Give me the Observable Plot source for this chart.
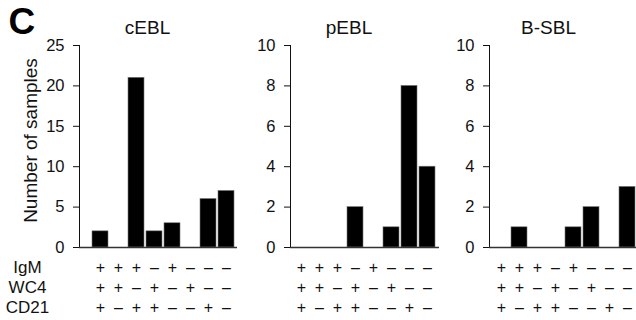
<!DOCTYPE html>
<html>
<head>
<meta charset="utf-8">
<script src="https://cdn.jsdelivr.net/npm/d3@7"></script>
<script src="https://cdn.jsdelivr.net/npm/@observablehq/plot@0.6"></script>
<style>
  html, body { margin: 0; padding: 0; background: #fff; overflow: hidden; }
  #wrap { position: relative; width: 636px; height: 320px; overflow: hidden; font-family: "Liberation Sans", Arial, sans-serif; }
  #wrap > div { position: absolute; top: 0; }
  #wrap svg { max-width: none !important; }
</style>
</head>
<body>
<div id="wrap">
  <div id="p1" style="left:0px; width:240px"></div>
  <div id="p2" style="left:240px; width:200px"></div>
  <div id="p3" style="left:440px; width:200px"></div>
</div>
<script>
// Categories (marker combinations) and sign rows
const categories = [0, 1, 2, 3, 4, 5, 6, 7];
const markers = ["IgM", "WC4", "CD21"];
const igmSigns  = ["+", "+", "+", "–", "+", "–", "–", "–"];
const wc4Signs  = ["+", "+", "–", "+", "–", "+", "–", "–"];
const cd21Signs = ["+", "–", "+", "+", "–", "–", "+", "–"];

// Series values per panel
const panelTitles = ["cEBL", "pEBL", "B-SBL"];
const cEBL  = [2, 0, 21, 2, 3, 0, 6, 7];
const pEBL  = [0, 0, 0, 2, 0, 1, 8, 4];
const bSBL  = [0, 1, 0, 0, 1, 2, 0, 3];
const yMax = [25, 10, 10];
const yTicks = [[0, 5, 10, 15, 20, 25], [0, 2, 4, 6, 8, 10], [0, 2, 4, 6, 8, 10]];
const yLabel = "Number of samples";
const panelLetter = "C";

const signRows = [igmSigns, wc4Signs, cd21Signs];

function panel(values, idx, opts) {
  const data = categories.map((c, i) => ({c, v: values[i]}));
  const signMarks = signRows.map((row, r) =>
    Plot.text(categories, {
      x: d => d, text: d => row[d], frameAnchor: "bottom", lineAnchor: "middle",
      dy: 20 + r * 20, fontSize: 16, fill: "#111"
    })
  );
  const marks = [
    Plot.barY(data, {x: "c", y: "v", fill: "#000", stroke: "#777", strokeWidth: 0.6}),
    Plot.ruleY([0], {stroke: "#333", strokeWidth: 1.5}),
    Plot.text([panelTitles[idx]], {frameAnchor: "top", textAnchor: "middle", dx: opts.titleDx, dy: -12, lineAnchor: "bottom", fontSize: 19, fill: "#111"}),
    ...signMarks
  ];
  if (idx === 0) {
    marks.push(
      Plot.text([yLabel], {frameAnchor: "left", textAnchor: "middle", lineAnchor: "middle", dx: -49, dy: -6, rotate: -90, fontSize: 19, fill: "#111"}),
      Plot.text([panelLetter], {frameAnchor: "top-left", textAnchor: "start", dx: -71, dy: -23, lineAnchor: "middle", fontSize: 37, fontWeight: "bold", fill: "#000"}),
      ...markers.map((m, r) => Plot.text([m], {frameAnchor: "bottom-left", textAnchor: "middle", lineAnchor: "middle", dx: -52, dy: 20 + r * 20, fontSize: 17, fill: "#111"}))
    );
  }
  return Plot.plot({
    width: opts.width,
    height: 320,
    marginLeft: opts.marginLeft,
    marginRight: opts.marginRight,
    marginTop: 45,
    marginBottom: 73,
    style: {fontFamily: "'Liberation Sans', Arial, sans-serif", fontSize: "16.5px", color: "#111", background: "transparent", overflow: "visible", maxWidth: "none"},
    x: {type: "band", domain: categories, padding: 0.09, insetLeft: opts.insetLeft || 0, axis: null},
    y: {domain: [0, yMax[idx]], ticks: yTicks[idx], tickSize: 6, tickPadding: opts.tickPadding, line: true, label: null},
    marks
  });
}

document.getElementById("p1").appendChild(panel(cEBL, 0, {width: 240, marginLeft: 79, marginRight: 3, insetLeft: 11, tickPadding: 9, titleDx: -11}));
document.getElementById("p2").appendChild(panel(pEBL, 1, {width: 200, marginLeft: 50, marginRight: 1, tickPadding: 9, titleDx: -16}));
document.getElementById("p3").appendChild(panel(bSBL, 2, {width: 200, marginLeft: 49, marginRight: 1, tickPadding: 9, titleDx: -16}));
</script>
</body>
</html>
